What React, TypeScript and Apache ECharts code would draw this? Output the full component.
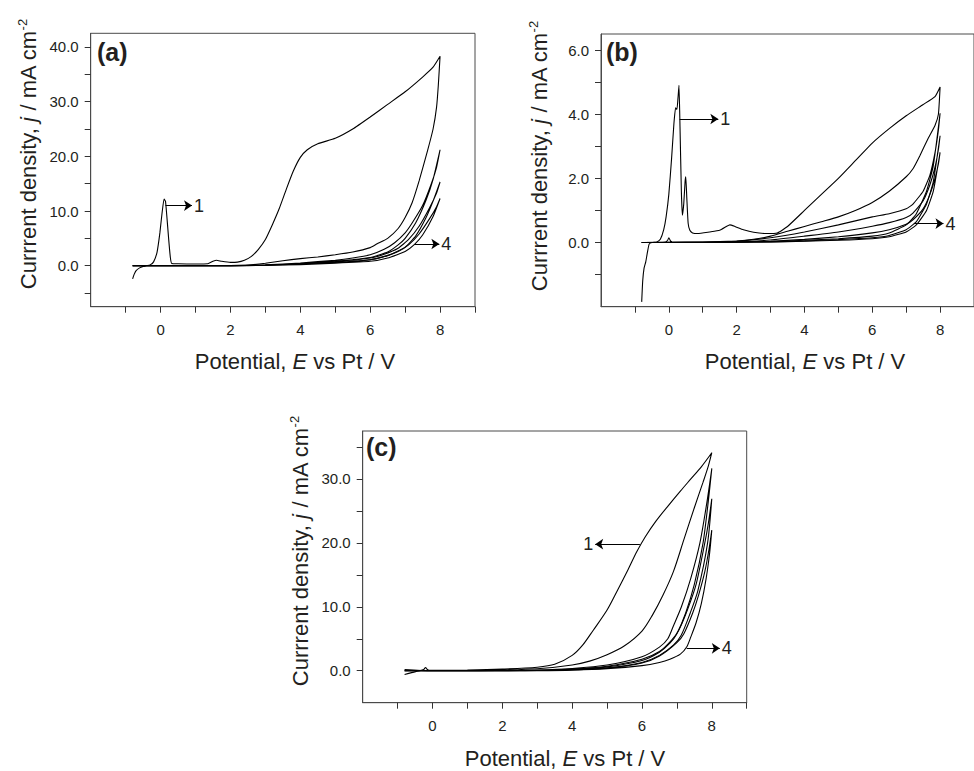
import React, { useEffect, useRef } from 'react';
import * as echarts from 'echarts';

// ---------- axis ticks / labels ----------
const xTicks = [-1, 0, 1, 2, 3, 4, 5, 6, 7, 8, 9];
const xLabels = [0, 2, 4, 6, 8];
const aYTicks = [-5, 0, 5, 10, 15, 20, 25, 30, 35, 40];
const aYLabels = [0, 10, 20, 30, 40];
const bYTicks = [-1, 0, 1, 2, 3, 4, 5, 6];
const bYLabels = [0, 2, 4, 6];
const cYTicks = [0, 5, 10, 15, 20, 25, 30, 35];
const cYLabels = [0, 10, 20, 30];

// ---------- panel (a) cycles: [E (V), j (mA cm-2)] ----------
const aCycle1 = [
  [-0.8, -2.4], [-0.75, -1.5], [-0.7, -0.9], [-0.6, -0.4], [-0.5, -0.15], [-0.4, 0], [-0.3, 0.15], [-0.2, 0.7],
  [-0.1, 2.5], [-0.02, 6], [0.04, 9.5], [0.1, 12.2], [0.14, 11.8], [0.18, 9], [0.23, 5], [0.28, 1.5], [0.32, 0.4],
  [0.5, 0.35], [1.0, 0.3], [1.35, 0.35], [1.5, 0.8], [1.6, 1.0], [1.75, 0.8], [2.0, 0.6], [2.2, 0.65], [2.4, 1.0],
  [2.6, 1.7], [2.8, 3.0], [3.0, 4.8], [3.2, 7.5], [3.4, 10.5], [3.6, 14], [3.8, 17.3], [4.0, 19.8], [4.2, 21.2],
  [4.5, 22.3], [5.0, 23.3], [5.5, 25], [6.0, 27.2], [6.5, 29.5], [7.0, 31.8], [7.5, 34.5], [7.8, 36.3], [8.0, 38.3],
  [7.95, 33], [7.9, 29], [7.8, 25], [7.64, 21], [7.4, 15.5], [7.2, 11.5], [7.0, 8.8], [6.8, 6.8], [6.5, 5],
  [6.2, 4], [6.0, 3.3], [5.5, 2.5], [5.0, 2.0], [4.5, 1.6], [4.0, 1.3], [3.5, 0.9], [3.0, 0.45], [2.5, 0.1],
  [2.0, 0.02], [1.0, 0], [-0.8, 0],
];
const aCycle2 = [
  [-0.8, 0], [1, 0], [2, 0.02], [3, 0.12], [4, 0.4], [5, 0.8], [5.5, 1.1], [6, 1.5], [6.5, 2.5], [6.8, 3.8],
  [7.0, 5], [7.3, 7.8], [7.6, 12], [7.8, 15.8], [8.0, 21.2], [7.9, 18], [7.75, 15], [7.5, 11], [7.2, 7.8],
  [7.0, 6.0], [6.7, 4.2], [6.4, 3.0], [6.0, 2.0], [5.5, 1.4], [5.0, 1.0], [4.0, 0.5], [3.0, 0.15], [2.0, 0.02], [-0.8, 0],
];
const aCycle3 = [
  [-0.8, 0], [2, 0], [3, 0.08], [4, 0.3], [5, 0.6], [6, 1.1], [6.5, 1.8], [7.0, 3.4], [7.3, 5.4], [7.6, 8.8],
  [7.8, 11.8], [8.0, 15.3], [7.9, 13.3], [7.7, 10.6], [7.4, 7.2], [7.1, 4.8], [6.8, 3.2], [6.4, 2.1], [6.0, 1.4],
  [5.0, 0.75], [4.0, 0.35], [3.0, 0.1], [2.0, 0], [-0.8, 0],
];
const aCycle4 = [
  [-0.8, 0], [2, 0], [3, 0.05], [4, 0.2], [5, 0.45], [6, 0.8], [6.5, 1.4], [7.0, 2.6], [7.27, 3.9], [7.5, 5.6],
  [7.8, 9.0], [8.0, 12.3], [7.9, 10.8], [7.7, 8.6], [7.4, 5.8], [7.1, 3.8], [6.8, 2.6], [6.4, 1.7], [6.0, 1.1],
  [5.0, 0.55], [4.0, 0.25], [3.0, 0.05], [2.0, 0], [-0.8, 0],
];

// ---------- panel (b) ----------
const bCycle1 = [
  [-0.8, -1.85], [-0.77, -1.2], [-0.73, -0.8], [-0.68, -0.6], [-0.63, -0.3], [-0.58, -0.05], [-0.5, 0], [-0.35, 0.02],
  [-0.25, 0.1], [-0.15, 0.4], [-0.08, 0.8], [0.0, 1.5], [0.08, 2.6], [0.15, 3.7], [0.2, 4.2], [0.24, 4.15],
  [0.27, 4.5], [0.3, 4.9], [0.33, 3.6], [0.37, 1.6], [0.4, 0.85], [0.44, 1.2], [0.48, 1.9], [0.5, 2.05], [0.53, 1.4],
  [0.57, 0.6], [0.62, 0.38], [0.7, 0.3], [0.85, 0.28], [1.2, 0.33], [1.5, 0.38], [1.7, 0.5], [1.8, 0.55],
  [1.95, 0.5], [2.2, 0.4], [2.5, 0.32], [2.9, 0.28], [3.2, 0.3], [3.5, 0.5], [4.0, 1.0], [4.5, 1.5], [5.0, 2.0],
  [5.5, 2.55], [6.0, 3.1], [6.5, 3.55], [7.0, 3.95], [7.5, 4.3], [7.85, 4.55], [8.0, 4.85],
  [7.95, 4.0], [7.85, 3.65], [7.65, 3.25], [7.4, 2.7], [7.2, 2.3], [7.0, 2.05], [6.5, 1.6], [6.0, 1.25],
  [5.5, 1.0], [5.0, 0.8], [4.5, 0.65], [4.0, 0.5], [3.5, 0.35], [3.0, 0.2], [2.5, 0.1], [2.0, 0.05], [1.0, 0.01],
  [0, 0], [-0.8, 0],
];
const bCycle2 = [
  [-0.8, 0], [-0.1, 0.01], [-0.03, 0.08], [0.0, 0.15], [0.05, 0.05], [0.1, 0], [1, 0], [2, 0.01], [3, 0.03],
  [4, 0.07], [5, 0.12], [6, 0.2], [6.5, 0.3], [7.0, 0.55], [7.3, 0.9], [7.6, 1.6], [7.8, 2.4], [8.0, 4.03],
  [7.95, 3.5], [7.85, 2.8], [7.7, 2.1], [7.5, 1.6], [7.2, 1.2], [7.0, 1.05], [6.5, 0.9], [6.0, 0.8], [5.0, 0.55],
  [4.0, 0.33], [3.0, 0.15], [2.0, 0.04], [1.0, 0.01], [-0.8, 0],
];
const bCycle3 = [
  [-0.8, 0], [1, 0], [2, 0.01], [3, 0.02], [4, 0.05], [5, 0.09], [6, 0.15], [6.5, 0.22], [7.0, 0.4], [7.3, 0.65],
  [7.6, 1.2], [7.8, 1.9], [8.0, 3.33], [7.95, 2.9], [7.85, 2.35], [7.7, 1.8], [7.5, 1.3], [7.2, 0.92], [7.0, 0.78],
  [6.5, 0.62], [6.0, 0.51], [5.0, 0.33], [4.0, 0.2], [3.0, 0.08], [2.0, 0.02], [-0.8, 0],
];
const bCycle4 = [
  [-0.8, 0], [1, 0], [2, 0.01], [3, 0.02], [4, 0.04], [5, 0.07], [6, 0.12], [6.5, 0.18], [7.0, 0.33], [7.3, 0.55],
  [7.6, 1.0], [7.8, 1.6], [8.0, 2.81], [7.95, 2.45], [7.85, 2.0], [7.7, 1.5], [7.5, 1.05], [7.2, 0.71], [7.0, 0.57],
  [6.5, 0.4], [6.0, 0.3], [5.0, 0.18], [4.0, 0.1], [3.0, 0.04], [2.0, 0.01], [-0.8, 0],
];

// ---------- panel (c) ----------
const cCycle1 = [
  [-0.8, -0.6], [-0.6, -0.3], [-0.4, -0.05], [-0.25, 0.2], [-0.2, 0.5], [-0.15, 0.2], [-0.1, 0.05], [0, 0.05],
  [1, 0.1], [2, 0.25], [3, 0.55], [3.5, 1.0], [4.0, 2.4], [4.3, 4.0], [4.6, 6.3], [5.0, 9.5], [5.3, 12.6],
  [5.6, 15.8], [5.85, 18.6], [6.1, 21.0], [6.4, 23.4], [6.75, 25.8], [7.1, 28.1], [7.4, 30.0], [7.7, 31.9], [8.0, 34.1],
  [7.9, 32], [7.75, 29.5], [7.5, 25.5], [7.2, 20.5], [6.9, 15.5], [6.6, 11.8], [6.3, 8.7], [6.0, 6.2], [5.5, 3.9],
  [5.0, 2.5], [4.5, 1.5], [4.0, 0.9], [3.0, 0.3], [2.0, 0.1], [1.0, 0.02], [0, 0], [-0.8, 0.2],
];
const cCycle2 = [
  [-0.8, 0], [0, 0], [2, 0.02], [3, 0.05], [4, 0.2], [5, 0.6], [6, 1.6], [6.5, 2.9], [6.8, 4.3], [7.0, 5.8],
  [7.25, 9], [7.5, 13.5], [7.75, 20], [7.9, 26.5], [8.0, 31.6], [7.85, 26], [7.66, 20], [7.4, 14.5], [7.13, 10],
  [6.9, 7], [6.74, 5], [6.5, 3.7], [6.0, 2.2], [5.0, 0.9], [4.0, 0.35], [3.0, 0.1], [2.0, 0.02], [-0.8, 0],
];
const cCycle3 = [
  [-0.8, 0], [0, 0], [2, 0.01], [3, 0.04], [4, 0.15], [5, 0.45], [6, 1.3], [6.5, 2.4], [6.9, 4.0], [7.12, 5.5],
  [7.38, 9], [7.6, 12.5], [7.88, 20], [8.0, 26.9], [7.9, 23], [7.8, 20], [7.55, 13.5], [7.3, 9.5], [7.05, 6.3],
  [6.85, 4.8], [6.5, 3.0], [6.0, 1.8], [5.0, 0.7], [4.0, 0.25], [3.0, 0.06], [2.0, 0.01], [-0.8, 0],
];
const cCycle4 = [
  [-0.8, 0], [0, 0], [2, 0], [3, 0.02], [4, 0.08], [5, 0.3], [6, 0.8], [6.5, 1.3], [6.8, 1.8], [7.1, 2.6],
  [7.28, 3.7], [7.4, 5.3], [7.55, 7.5], [7.7, 10.5], [7.84, 14.5], [7.94, 18.5], [8.0, 22], [7.92, 19],
  [7.8, 15.5], [7.62, 11.8], [7.45, 9], [7.2, 5.8], [7.0, 4.4], [6.5, 2.3], [6.0, 1.2], [5.0, 0.4], [4.0, 0.1],
  [3.0, 0.02], [-0.8, 0],
];

// ---------- annotation arrows: from -> to, label ----------
const aArrows = [
  { from: [0.14, 11.0], to: [0.9, 11.0], text: '1' },
  { from: [7.27, 3.97], to: [7.98, 3.97], text: '4' },
];
const bArrows = [
  { from: [0.32, 3.85], to: [1.46, 3.85], text: '1' },
  { from: [7.26, 0.59], to: [8.1, 0.59], text: '4' },
];
const cArrows = [
  { from: [5.94, 19.8], to: [4.66, 19.8], text: '1' },
  { from: [7.28, 3.5], to: [8.23, 3.5], text: '4' },
];

const FONT = '"Liberation Sans", Arial, Helvetica, sans-serif';
const TXT = '#231f20';
const FRAME = '#4a4a4a';

function xAxisFor(gi: number) {
  return {
    gridIndex: gi,
    type: 'value',
    min: -2,
    max: 9,
    axisLine: { show: true, onZero: false, lineStyle: { color: FRAME, width: 1 } },
    axisTick: { show: true, customValues: xTicks, length: 6, lineStyle: { color: '#333', width: 1 } },
    axisLabel: {
      customValues: xLabels,
      formatter: (v: number) => String(v),
      margin: 15,
      fontSize: 15,
      fontFamily: FONT,
      color: TXT,
    },
    splitLine: { show: false },
  };
}

function yAxisFor(gi: number, min: number, max: number, ticks: number[], labels: number[]) {
  return {
    gridIndex: gi,
    type: 'value',
    min,
    max,
    axisLine: { show: true, onZero: false, lineStyle: { color: FRAME, width: 1 } },
    axisTick: { show: true, customValues: ticks, length: 6, lineStyle: { color: '#333', width: 1 } },
    axisLabel: {
      customValues: labels,
      formatter: (v: number) => v.toFixed(1),
      margin: 12,
      fontSize: 15,
      fontFamily: FONT,
      color: TXT,
    },
    splitLine: { show: false },
  };
}

function arrowMark(arrows: { from: number[]; to: number[]; text: string }[]) {
  return {
    silent: true,
    animation: false,
    symbol: ['none', 'arrow'],
    symbolSize: 8,
    lineStyle: { color: '#000', width: 1, type: 'solid' },
    label: {
      show: true,
      position: 'end',
      formatter: '{b}',
      distance: 2,
      fontSize: 18,
      fontFamily: FONT,
      color: TXT,
    },
    emphasis: { disabled: true },
    data: arrows.map((a) => [{ name: a.text, coord: a.from }, { coord: a.to }]),
  };
}

function cycleSeries(gi: number, data: number[][], arrows?: any, smooth = 0.15) {
  const s: any = {
    type: 'line',
    xAxisIndex: gi,
    yAxisIndex: gi,
    data,
    showSymbol: false,
    symbol: 'none',
    smooth,
    silent: true,
    clip: true,
    lineStyle: { color: '#000', width: 1.1 },
  };
  if (arrows) s.markLine = arrowMark(arrows);
  return s;
}

function yTitle(x: number, y: number) {
  return {
    type: 'text',
    x,
    y,
    rotation: Math.PI / 2,
    silent: true,
    style: {
      text: '{n|Currrent density, }{i|j}{n| / mA cm}{s|-2}',
      align: 'center',
      verticalAlign: 'middle',
      rich: {
        n: { fontSize: 22, fontFamily: FONT, fill: TXT, lineHeight: 25 },
        i: { fontSize: 22, fontFamily: FONT, fontStyle: 'italic', fill: TXT, lineHeight: 25 },
        s: { fontSize: 13, fontFamily: FONT, fill: TXT, lineHeight: 14, verticalAlign: 'top' },
      },
    },
  };
}

function xTitle(x: number, y: number) {
  return {
    type: 'text',
    x,
    y,
    silent: true,
    style: {
      text: '{n|Potential, }{i|E}{n| vs Pt / V}',
      align: 'center',
      verticalAlign: 'middle',
      rich: {
        n: { fontSize: 22, fontFamily: FONT, fill: TXT },
        i: { fontSize: 22, fontFamily: FONT, fontStyle: 'italic', fill: TXT },
      },
    },
  };
}

function panelLetter(x: number, y: number, t: string) {
  return {
    type: 'text',
    x,
    y,
    silent: true,
    style: { text: t, font: `bold 25px ${FONT}`, fill: TXT, verticalAlign: 'middle' },
  };
}

export default function App() {
  const ref = useRef<HTMLDivElement>(null);
  useEffect(() => {
    if (!ref.current) return;
    const chart = echarts.init(ref.current, undefined, { renderer: 'svg' });
    const gridStyle = { show: true, borderColor: FRAME, borderWidth: 1, backgroundColor: 'transparent' };
    chart.setOption({
      animation: false,
      backgroundColor: '#ffffff',
      grid: [
        { left: 90.7, top: 33.3, width: 384.3, height: 273.4, ...gridStyle },
        { left: 601, top: 34, width: 386, height: 272.7, ...gridStyle },
        { left: 362.7, top: 431, width: 384, height: 271.7, ...gridStyle },
      ],
      xAxis: [xAxisFor(0), xAxisFor(1), xAxisFor(2)],
      yAxis: [
        yAxisFor(0, -7.5, 42.5, aYTicks, aYLabels),
        yAxisFor(1, -2, 6.5, bYTicks, bYLabels),
        yAxisFor(2, -5, 37.5, cYTicks, cYLabels),
      ],
      series: [
        cycleSeries(0, aCycle1, aArrows),
        cycleSeries(0, aCycle2),
        cycleSeries(0, aCycle3),
        cycleSeries(0, aCycle4),
        cycleSeries(1, bCycle1, bArrows),
        cycleSeries(1, bCycle2),
        cycleSeries(1, bCycle3),
        cycleSeries(1, bCycle4),
        cycleSeries(2, cCycle1, cArrows, 0.3),
        cycleSeries(2, cCycle2, undefined, 0.25),
        cycleSeries(2, cCycle3, undefined, 0.25),
        cycleSeries(2, cCycle4, undefined, 0.25),
      ],
      graphic: [
        yTitle(28, 154),
        yTitle(539, 156),
        yTitle(300, 551),
        xTitle(295, 361),
        xTitle(805, 361),
        xTitle(565, 758),
        panelLetter(97, 52, '(a)'),
        panelLetter(606, 52, '(b)'),
        panelLetter(366, 447, '(c)'),
      ],
    });
    return () => chart.dispose();
  }, []);
  return (
    <div
      ref={ref}
      style={{ position: 'absolute', left: 0, top: 0, width: 974, height: 771, overflow: 'hidden' }}
    />
  );
}
